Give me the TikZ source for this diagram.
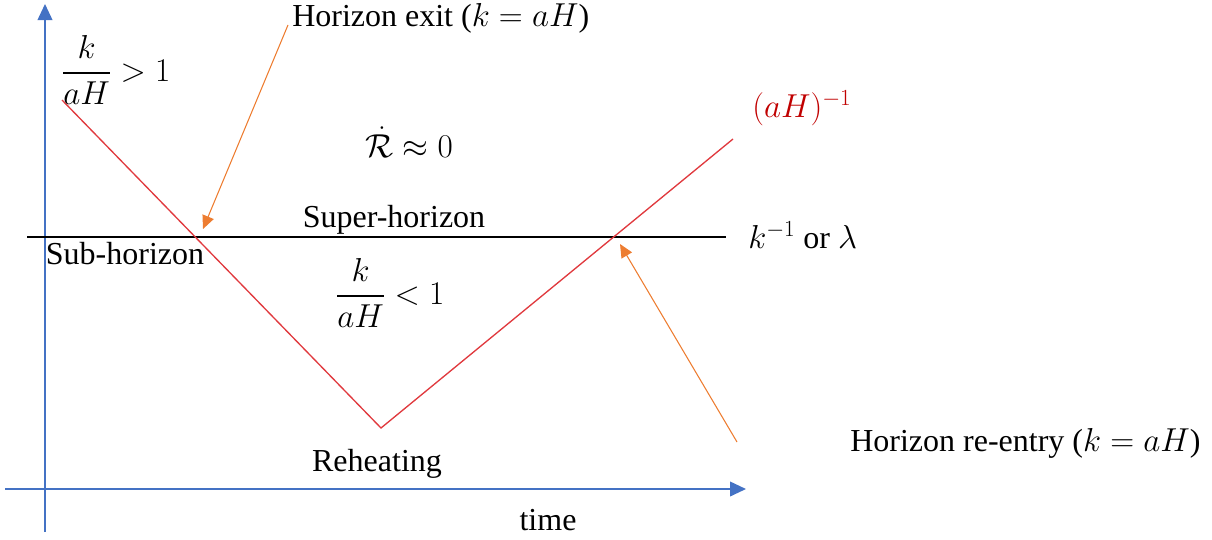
\documentclass[tikz,border=0pt]{standalone}
\usepackage{amsmath}
\usepackage{fontspec}
\setmainfont{Liberation Serif}
\usetikzlibrary{arrows.meta}
\definecolor{axisblue}{HTML}{4472C4}
\definecolor{curvered}{HTML}{E0393E}
\definecolor{labelred}{HTML}{C00000}
\definecolor{arrorange}{HTML}{ED7D31}
\tikzset{
  axis/.style={axisblue, line width=1.3pt, -{Triangle[length=12pt,width=11pt]}},
  pointer/.style={arrorange, line width=0.8pt, -{Triangle[length=10pt,width=9pt]}},
  curve/.style={curvered, line width=1pt, line join=miter},
  scaleline/.style={black, line width=0.8pt},
  lbl/.style={inner sep=0pt, font=\fontsize{24}{28}\selectfont},
}
\begin{document}
\begin{tikzpicture}[x=0.75pt,y=-0.75pt]
\useasboundingbox (0,0) rectangle (1212,539);
% axes
\coordinate (yb) at (45,532);
\coordinate (yt) at (45,4);
\coordinate (xl) at (5,489);
\coordinate (xr) at (746,489);
\draw[axis] (yb) -- (yt);
\draw[axis] (xl) -- (xr);
% horizontal scale line
\coordinate (hl) at (27,237);
\coordinate (hr) at (726,237);
\draw[scaleline] (hl) -- (hr);
% red V curve
\coordinate (c1) at (62,100);
\coordinate (cv) at (381,428);
\coordinate (c2) at (733,139);
\draw[curve] (c1) -- (cv) -- (c2);
% labels
\node[lbl] (gt) at (116,70) {$\dfrac{k}{aH} > 1$};
\node[lbl, anchor=west] (exit) at (292,18) {Horizon exit ($k = aH$)};
\node[lbl, text=labelred, anchor=west] (aHinv) at (752,108) {$(aH)^{-1}$};
\node[lbl] (rdot) at (409,142) {$\dot{\mathcal{R}} \approx 0$};
\node[lbl] (super) at (394,220) {Super-horizon};
\node[lbl] (sub) at (125,254) {Sub-horizon};
\node[lbl] (lt) at (390,293) {$\dfrac{k}{aH} < 1$};
\node[lbl, anchor=west] (kinv) at (748,235) {$k^{-1}$ or $\lambda$};
\node[lbl] (reh) at (377,464) {Reheating};
\node[lbl] (time) at (548,520) {time};
\node[lbl, anchor=west] (reentry) at (850,443) {Horizon re-entry ($k = aH$)};
% orange pointers
\coordinate (p1s) at (288,25);
\coordinate (p1e) at (203,229);
\coordinate (p2s) at (737,442);
\coordinate (p2e) at (620,244);
\draw[pointer] (p1s) -- (p1e);
\draw[pointer] (p2s) -- (p2e);
\end{tikzpicture}
\end{document}
